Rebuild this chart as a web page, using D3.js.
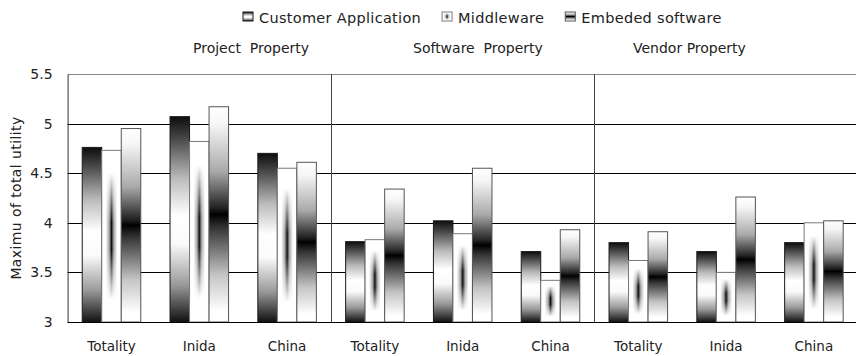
<!DOCTYPE html>
<html>
<head>
<meta charset="utf-8">
<script src="https://cdn.jsdelivr.net/npm/d3@7"></script>
<style>
  body { margin: 0; background: #fff; }
  svg { display: block; }
  text { font-family: "DejaVu Sans", sans-serif; fill: #222; }
</style>
</head>
<body>
<svg id="chart" width="856" height="356"></svg>
<script>
// Property groups, and the three sub-categories shown inside each group
const groups = ["Project  Property", "Software  Property", "Vendor Property"];
const subCategories = ["Totality", "Inida", "China"];
const seriesNames = ["Customer Application", "Middleware", "Embeded software"];

// Maximum of total utility, in order group by group, then sub-category
const customerApplication = [4.76, 5.07, 4.70, 3.81, 4.02, 3.71, 3.80, 3.71, 3.80];
const middleware          = [4.73, 4.82, 4.55, 3.83, 3.89, 3.42, 3.62, 3.50, 4.00];
const embededSoftware     = [4.95, 5.17, 4.61, 4.34, 4.55, 3.93, 3.91, 4.26, 4.02];

const yTicks = [3, 3.5, 4, 4.5, 5, 5.5];
const yTitle = "Maximu of total utility";

const seriesValues = [customerApplication, middleware, embededSoftware];
const keys = groups.flatMap(g => subCategories.map(c => g + "|" + c));
const rows = keys.map((k, i) => ({
  key: k,
  group: k.split("|")[0],
  label: k.split("|")[1],
  values: seriesNames.map((s, j) => ({ series: s, idx: j, value: seriesValues[j][i] }))
}));

const svg = d3.select("#chart");
const plot = { left: 67.6, top: 74, bottom: 322, step: 87.8 };
plot.right = plot.left + plot.step * keys.length;

const x0 = d3.scaleBand().domain(keys).range([plot.left, plot.right])
  .paddingInner(1 / 3).paddingOuter(1 / 6);
const x1 = d3.scaleBand().domain(seriesNames).range([0, x0.bandwidth()]);
const y = d3.scaleLinear().domain([3, 5.5]).range([plot.bottom, plot.top]);

// ---- gradient fills ----
const defs = svg.append("defs");
function linear(id, vertical, stops) {
  const g = defs.append("linearGradient").attr("id", id)
    .attr("x1", 0).attr("y1", 0)
    .attr("x2", vertical ? 0 : 1).attr("y2", vertical ? 1 : 0);
  stops.forEach(([o, c]) => g.append("stop").attr("offset", o).attr("stop-color", c));
}
// dark edges, light middle
linear("gCA", true, [[0, "#0d0d0d"], [0.1, "#444"], [0.3, "#bbb"], [0.48, "#fff"], [0.62, "#fafafa"], [0.82, "#999"], [1, "#111"]]);
// light edges, dark middle band
linear("gES", true, [[0, "#fff"], [0.08, "#f6f6f6"], [0.3, "#aaa"], [0.47, "#222"], [0.5, "#000"], [0.56, "#333"], [0.78, "#c4c4c4"], [0.95, "#fff"], [1, "#fff"]]);
// dark centre streak (horizontal profile), faded out vertically by a mask
linear("gMWx", false, [[0, "#fff"], [0.2, "#fff"], [0.38, "#a8a8a8"], [0.5, "#111"], [0.62, "#a8a8a8"], [0.8, "#fff"], [1, "#fff"]]);
linear("gMWy", true, [[0, "#000"], [0.13, "#000"], [0.42, "#fff"], [0.58, "#fff"], [0.87, "#000"], [1, "#000"]]);
defs.append("mask").attr("id", "mMW")
  .attr("maskContentUnits", "objectBoundingBox")
  .append("rect").attr("width", 1).attr("height", 1).attr("fill", "url(#gMWy)");

const strokes = ["#1a1a1a", "#7a7a7a", "#555"];

function drawSwatch(sel, idx, w, h) {
  if (idx === 1) {
    sel.append("rect").attr("width", w).attr("height", h).attr("fill", "#fff");
    sel.append("rect").attr("width", w).attr("height", h)
      .attr("fill", "url(#gMWx)").attr("mask", "url(#mMW)");
  } else {
    sel.append("rect").attr("width", w).attr("height", h)
      .attr("fill", idx === 0 ? "url(#gCA)" : "url(#gES)");
  }
  sel.append("rect").attr("width", w).attr("height", h)
    .attr("fill", "none").attr("stroke", strokes[idx]).attr("stroke-width", 1);
}

// ---- grid lines ----
svg.append("g").selectAll("line").data(yTicks.filter(t => t > 3 && t < 5.5)).join("line")
  .attr("x1", plot.left).attr("x2", plot.right)
  .attr("y1", d => Math.round(y(d)) + 0.5).attr("y2", d => Math.round(y(d)) + 0.5)
  .attr("stroke", "#000").attr("stroke-width", 1);

// top border
svg.append("line").attr("x1", plot.left).attr("x2", plot.right)
  .attr("y1", Math.round(y(5.5)) + 0.5).attr("y2", Math.round(y(5.5)) + 0.5)
  .attr("stroke", "#888");

// group dividers
const dividers = groups.slice(1).map(g => x0(g + "|" + subCategories[0]) - x0.step() * x0.paddingOuter());
svg.append("g").selectAll("line").data(dividers).join("line")
  .attr("x1", d => Math.round(d) + 0.5).attr("x2", d => Math.round(d) + 0.5)
  .attr("y1", y(5.5)).attr("y2", y(3))
  .attr("stroke", "#444");

// ---- bars ----
const bars = svg.append("g").selectAll("g").data(rows).join("g")
  .attr("transform", d => `translate(${x0(d.key)},0)`);
bars.selectAll("g").data(d => d.values).join("g")
  .attr("transform", d => `translate(${x1(d.series)},${y(d.value)})`)
  .each(function (d) {
    drawSwatch(d3.select(this), d.idx, x1.bandwidth(), y(3) - y(d.value));
  });

// ---- axes ----
const yAxis = svg.append("g").attr("transform", `translate(${plot.left},0)`)
  .call(d3.axisLeft(y).tickValues(yTicks).tickFormat(d3.format("")).tickSize(0).tickPadding(15));
yAxis.select(".domain").attr("stroke", "#333");
yAxis.selectAll("text").attr("font-size", 14).attr("fill", "#222")
  .attr("font-family", "DejaVu Sans, sans-serif");

// bottom axis line
svg.append("line").attr("x1", plot.left).attr("x2", plot.right)
  .attr("y1", Math.round(y(3)) + 0.5).attr("y2", Math.round(y(3)) + 0.5)
  .attr("stroke", "#000");

// category labels
svg.append("g").selectAll("text").data(rows).join("text")
  .attr("x", d => x0(d.key) + x0.bandwidth() / 2)
  .attr("y", 351)
  .attr("text-anchor", "middle")
  .attr("font-size", 13.5)
  .text(d => d.label);

// group titles
svg.append("g").selectAll("text").data(groups).join("text")
  .attr("x", (d, i) => 193 + i * 220)
  .attr("y", 53)
  .attr("font-size", 14)
  .style("white-space", "pre")
  .text(d => d);

// y axis title
svg.append("text")
  .attr("transform", `translate(21,${(y(3) + y(5.5)) / 2}) rotate(-90)`)
  .attr("text-anchor", "middle")
  .attr("font-size", 14)
  .attr("letter-spacing", 0.4)
  .text(yTitle);

// ---- legend ----
const legend = svg.append("g");
let lx = 243;
seriesNames.forEach((s, i) => {
  const item = legend.append("g").attr("transform", `translate(${lx},12)`);
  drawSwatch(item.append("g"), i, 10, 9);
  const t = item.append("text").attr("x", 16).attr("y", 10.5)
    .attr("font-size", 14.5).attr("letter-spacing", 0.3).text(s);
  lx += 16 + t.node().getComputedTextLength() + 21;
});
</script>
</body>
</html>
